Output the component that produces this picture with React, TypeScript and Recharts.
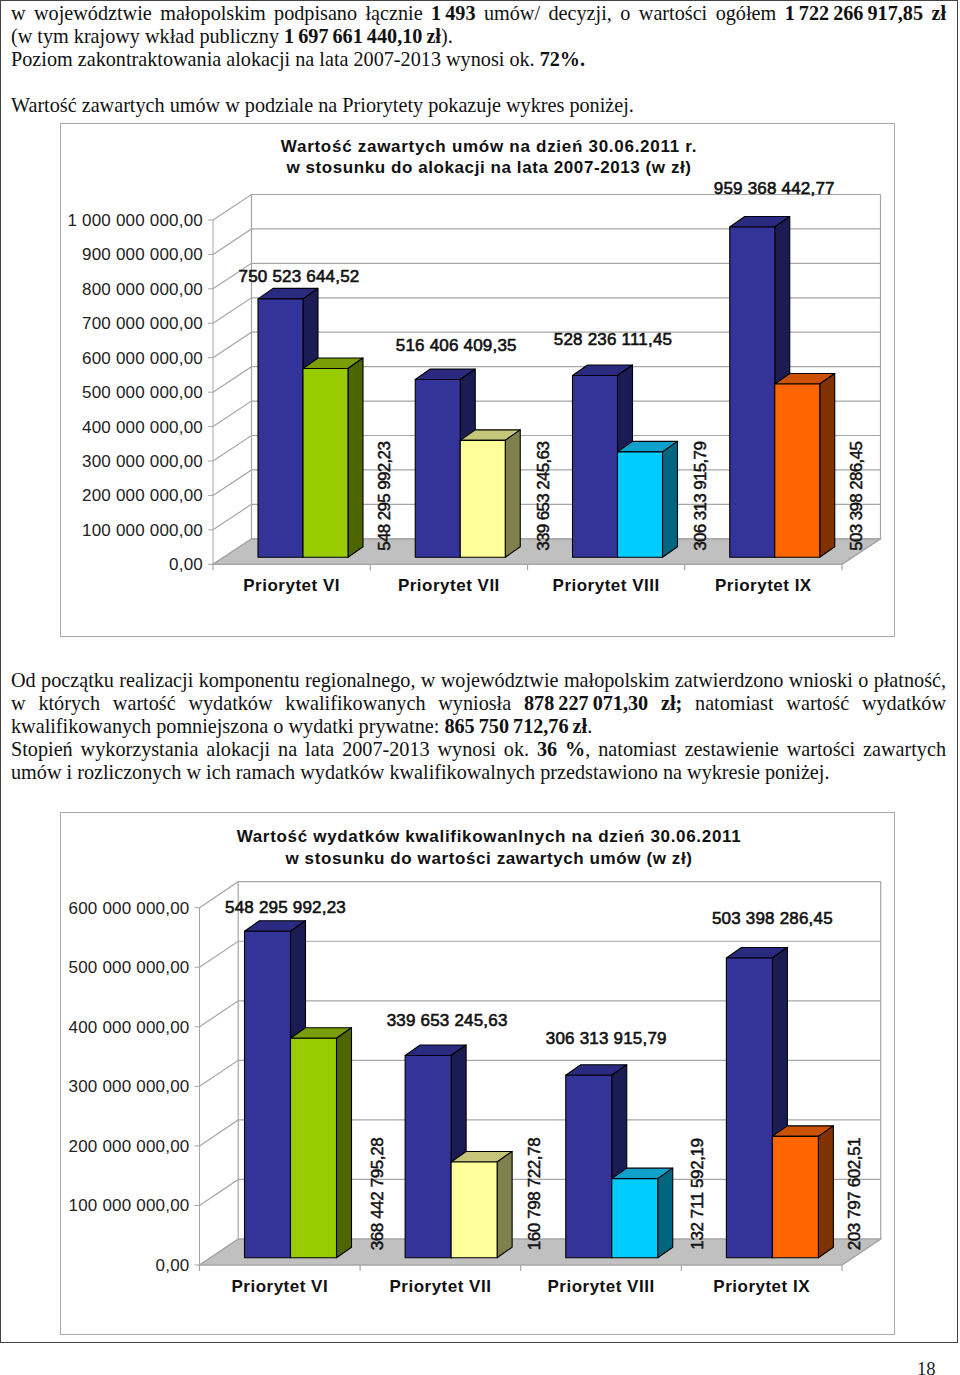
import React from 'react';
import { BarChart, Bar, XAxis, YAxis, CartesianGrid, LabelList } from 'recharts';

const categories = ['Priorytet VI', 'Priorytet VII', 'Priorytet VIII', 'Priorytet IX'];
const allocationValues = [750523644.52, 516406409.35, 528236111.45, 959368442.77];
const contractValues = [548295992.23, 339653245.63, 306313915.79, 503398286.45];
const expenseValues = [368442795.28, 160798722.78, 132711592.19, 203797602.51];
const ticksTop = [0, 100000000, 200000000, 300000000, 400000000, 500000000, 600000000, 700000000, 800000000, 900000000, 1000000000];
const ticksBottom = [0, 100000000, 200000000, 300000000, 400000000, 500000000, 600000000];

const blueFaces = { front: '#333399', top: '#2a2a80', side: '#1c1c55' };
const pairFaces = [
  { front: '#99cc00', top: '#7a9e06', side: '#4d6600' },
  { front: '#ffff99', top: '#c6c67a', side: '#80804d' },
  { front: '#00ccff', top: '#0fa0cc', side: '#006680' },
  { front: '#ff6600', top: '#cc5200', side: '#803300' },
];

const SANS = '"Liberation Sans", Arial, sans-serif';
const SERIF = '"Liberation Serif", "Times New Roman", serif';
const WALL = '#a6a6a6';

const money = (v: number) => {
  const [a, b] = v.toFixed(2).split('.');
  return a.replace(/\B(?=(\d{3})+$)/g, ' ') + ',' + b;
};

type ChartProps = {
  top: number;
  height: number;
  plotLeft: number;
  plotTop: number;
  plotBottom: number;
  wallX: number;
  wallY: number;
  barSize: number;
  baseLift: number;
  max: number;
  ticks: number[];
  first: number[];
  second: number[];
  labelDx: number[];
  labelDy: number[];
  sideDx: number[];
  sideLift: number;
  sideSpacing: number;
  title: string[];
  titleTop: number[];
  titleSpacing: number[];
};

const CHART_LEFT = 60;
const CHART_W = 834.5;
const PLOT_RIGHT = 842;
const SHIFT_X = 11;
const DEPTH_X = 15;
const DEPTH_Y = 10.5;

// the box drawn in fake 3D, x/y/width/height come from the bar scale
function box(p: any, faces: { front: string; top: string; side: string }, lift: number) {
  const x = p.x + SHIFT_X;
  const y = p.y - lift;
  const w = p.width;
  const h = p.height;
  return (
    <g stroke="#000" strokeWidth={1.1} strokeLinejoin="round">
      <path d={`M${x} ${y}l${DEPTH_X} ${-DEPTH_Y}h${w}l${-DEPTH_X} ${DEPTH_Y}z`} fill={faces.top} />
      <path d={`M${x + w} ${y}l${DEPTH_X} ${-DEPTH_Y}v${h}l${-DEPTH_X} ${DEPTH_Y}z`} fill={faces.side} />
      <rect x={x} y={y} width={w} height={h} fill={faces.front} />
    </g>
  );
}

function Chart3D(c: ChartProps) {
  const data = categories.map((name, i) => ({ name, first: c.first[i], second: c.second[i] }));
  const plotW = PLOT_RIGHT - c.plotLeft;
  const plotH = c.plotBottom - c.plotTop;
  const margin = { top: c.plotTop - c.top, right: CHART_LEFT + CHART_W - PLOT_RIGHT, left: 0, bottom: 0 };
  const axisH = c.top + c.height - c.plotBottom;
  const floorY = margin.top + plotH;

  // back wall, its side and the floor hang on the grid lines
  const gridLine = (p: any) => {
    const y = p.y1;
    const bx = p.x1 + c.wallX;
    const by = y - c.wallY;
    return (
      <g key={p.key ?? y} fill="none" stroke={WALL} strokeWidth={1.2}>
        {Math.abs(y - floorY) < 1 && (
          <path d={`M${p.x1} ${y}L${bx} ${by}H${bx + plotW}L${p.x1 + plotW} ${y}z`} fill="#c0c0c0" stroke={WALL} />
        )}
        {Math.abs(y - margin.top) < 1 && (
          <path d={`M${bx} ${by}V${by + plotH}M${bx + plotW} ${by}V${by + plotH}M${bx + plotW} ${by + plotH}L${p.x1 + plotW} ${floorY}`} />
        )}
        <path d={`M${p.x1} ${y}L${bx} ${by}H${bx + plotW}`} />
      </g>
    );
  };

  const catTick = (p: any) => {
    const half = plotW / 8;
    const last = p.index === categories.length - 1;
    return (
      <g>
        <path d={`M${p.x - half} ${floorY}v6${last ? `M${p.x + half} ${floorY}v6` : ''}`} stroke={WALL} strokeWidth={1.2} />
        <text x={p.x} y={floorY + 26.5} textAnchor="middle" fontFamily={SANS} fontSize={17} fontWeight={700} letterSpacing={0.5} fill="#111">
          {p.payload.value}
        </text>
      </g>
    );
  };

  const topLabel = (p: any) => {
    const i = p.index;
    return (
      <text
        x={p.x + SHIFT_X + p.width / 2 + c.labelDx[i]}
        y={p.y - c.baseLift + c.labelDy[i] + 5.5}
        textAnchor="middle"
        fontFamily={SANS}
        fontSize={17}
        letterSpacing={0.2}
        stroke="#111"
        strokeWidth={0.6}
        fill="#111"
      >
        {money(p.value)}
      </text>
    );
  };

  const sideLabel = (p: any) => {
    const i = p.index;
    const cx = p.x + SHIFT_X + p.width + c.sideDx[i];
    const cy = p.y + p.height - c.baseLift - c.sideLift;
    return (
      <text
        transform={`rotate(-90 ${cx} ${cy})`}
        x={cx}
        y={cy + 6}
        textAnchor="middle"
        fontFamily={SANS}
        fontSize={17}
        letterSpacing={c.sideSpacing}
        stroke="#111"
        strokeWidth={0.5}
        fill="#111"
      >
        {money(p.value)}
      </text>
    );
  };

  return (
    <div style={{ position: 'absolute', left: CHART_LEFT, top: c.top, width: CHART_W, height: c.height, border: '1.5px solid #aaa', boxSizing: 'border-box' }}>
      <div style={{ position: 'absolute', left: -1.5, top: -1.5 }}>
        <BarChart width={CHART_W} height={c.height} data={data} margin={margin} barGap={0} barSize={c.barSize}>
          <CartesianGrid horizontal={gridLine} vertical={false} stroke={WALL} />
          <XAxis dataKey="name" height={axisH} interval={0} stroke={WALL} tickLine={false} tick={catTick} />
          <YAxis
            type="number"
            width={c.plotLeft - CHART_LEFT}
            domain={[0, c.max]}
            ticks={c.ticks}
            interval={0}
            tickFormatter={money}
            stroke={WALL}
            tickSize={5}
            tickMargin={5}
            tick={{ fontFamily: SANS, fontSize: 17, letterSpacing: 0.2, fill: '#222' }}
          />
          <Bar dataKey="first" isAnimationActive={false} shape={(p: any) => box(p, blueFaces, c.baseLift)}>
            <LabelList dataKey="first" content={topLabel} />
          </Bar>
          <Bar dataKey="second" isAnimationActive={false} shape={(p: any) => box(p, pairFaces[p.index], c.baseLift)}>
            <LabelList dataKey="second" content={sideLabel} />
          </Bar>
        </BarChart>
      </div>
      {c.title.map((t, i) => (
        <div key={t} style={{ position: 'absolute', left: 0, width: 856, textAlign: 'center', top: c.titleTop[i] - c.top - 10, height: 20, lineHeight: '20px', fontFamily: SANS, fontWeight: 700, fontSize: 17, letterSpacing: c.titleSpacing[i], color: '#111', whiteSpace: 'nowrap' }}>
          {t}
        </div>
      ))}
    </div>
  );
}

function Line(props: { y: number; justify?: boolean; children: React.ReactNode }) {
  return (
    <div
      style={{
        position: 'absolute',
        left: 11,
        width: 935,
        top: props.y - 12,
        height: 24,
        lineHeight: '24px',
        fontFamily: SERIF,
        fontSize: 20.2,
        color: '#111',
        textAlign: props.justify ? 'justify' : 'left',
        textAlignLast: props.justify ? 'justify' : 'left',
        whiteSpace: props.justify ? 'normal' : 'nowrap',
      }}
    >
      {props.children}
    </div>
  );
}

// bold amounts keep their tight spaces when the line around them is justified
function Amount(props: { children: React.ReactNode }) {
  return <b style={{ display: 'inline-block', wordSpacing: -1, textAlignLast: 'left' }}>{props.children}</b>;
}

export default function App() {
  return (
    <div style={{ position: 'absolute', left: 0, top: 0, width: 960, height: 1375, background: '#fff', overflow: 'hidden' }}>
      <div style={{ position: 'absolute', left: 0, top: 0, width: 957.5, height: 1343, border: '1.5px solid #444', boxSizing: 'border-box' }} />
      <Line y={13} justify>
        w województwie małopolskim podpisano łącznie <Amount>1 493</Amount> umów/ decyzji, o wartości ogółem <Amount>1 722 266 917,85</Amount> <b>zł</b>
      </Line>
      <Line y={36}>
        (w tym krajowy wkład publiczny <Amount>1 697 661 440,10 zł</Amount>).
      </Line>
      <Line y={59}>
        Poziom zakontraktowania alokacji na lata 2007-2013 wynosi ok. <b>72%.</b>
      </Line>
      <Line y={105}>Wartość zawartych umów w podziale na Priorytety pokazuje wykres poniżej.</Line>

      <Chart3D
        top={123}
        height={514}
        plotLeft={213}
        plotTop={220}
        plotBottom={564.3}
        wallX={38.5}
        wallY={25.5}
        barSize={45}
        baseLift={7}
        max={1000000000}
        ticks={ticksTop}
        first={allocationValues}
        second={contractValues}
        labelDx={[18.5, 18.5, 18, 22]}
        labelDy={[-22, -34, -36, -38]}
        sideDx={[36, 38, 38, 36.5]}
        sideLift={61}
        sideSpacing={-0.65}
        title={['Wartość zawartych umów na dzień 30.06.2011 r.', 'w stosunku do alokacji na lata 2007-2013 (w zł)']}
        titleTop={[146, 167]}
        titleSpacing={[0.72, 0.58]}
      />

      <Line y={680} justify>
        Od początku realizacji komponentu regionalnego, w województwie małopolskim zatwierdzono wnioski o płatność,
      </Line>
      <Line y={703} justify>
        w których wartość wydatków kwalifikowanych wyniosła <Amount>878 227 071,30</Amount> <b>zł;</b> natomiast wartość wydatków
      </Line>
      <Line y={726}>
        kwalifikowanych pomniejszona o wydatki prywatne: <Amount>865 750 712,76 zł</Amount>.
      </Line>
      <Line y={749} justify>
        Stopień wykorzystania alokacji na lata 2007-2013 wynosi ok. <b>36 %</b>, natomiast zestawienie wartości zawartych
      </Line>
      <Line y={772}>umów i rozliczonych w ich ramach wydatków kwalifikowalnych przedstawiono na wykresie poniżej.</Line>

      <Chart3D
        top={812}
        height={523}
        plotLeft={199.5}
        plotTop={907.7}
        plotBottom={1265}
        wallX={38.7}
        wallY={26}
        barSize={46}
        baseLift={7.3}
        max={600000000}
        ticks={ticksBottom}
        first={contractValues}
        second={expenseValues}
        labelDx={[18, 19, 17.5, 23]}
        labelDy={[-24, -35, -37, -39]}
        sideDx={[40, 37, 39, 35.5]}
        sideLift={63.7}
        sideSpacing={-0.4}
        title={['Wartość wydatków kwalifikowanlnych na dzień 30.06.2011', 'w stosunku do wartości zawartych umów (w zł)']}
        titleTop={[836, 858]}
        titleSpacing={[0.68, 0.6]}
      />

      <div style={{ position: 'absolute', left: 917, top: 1362, height: 13, fontFamily: SERIF, fontSize: 18.6, lineHeight: '13px', color: '#222' }}>18</div>
    </div>
  );
}
